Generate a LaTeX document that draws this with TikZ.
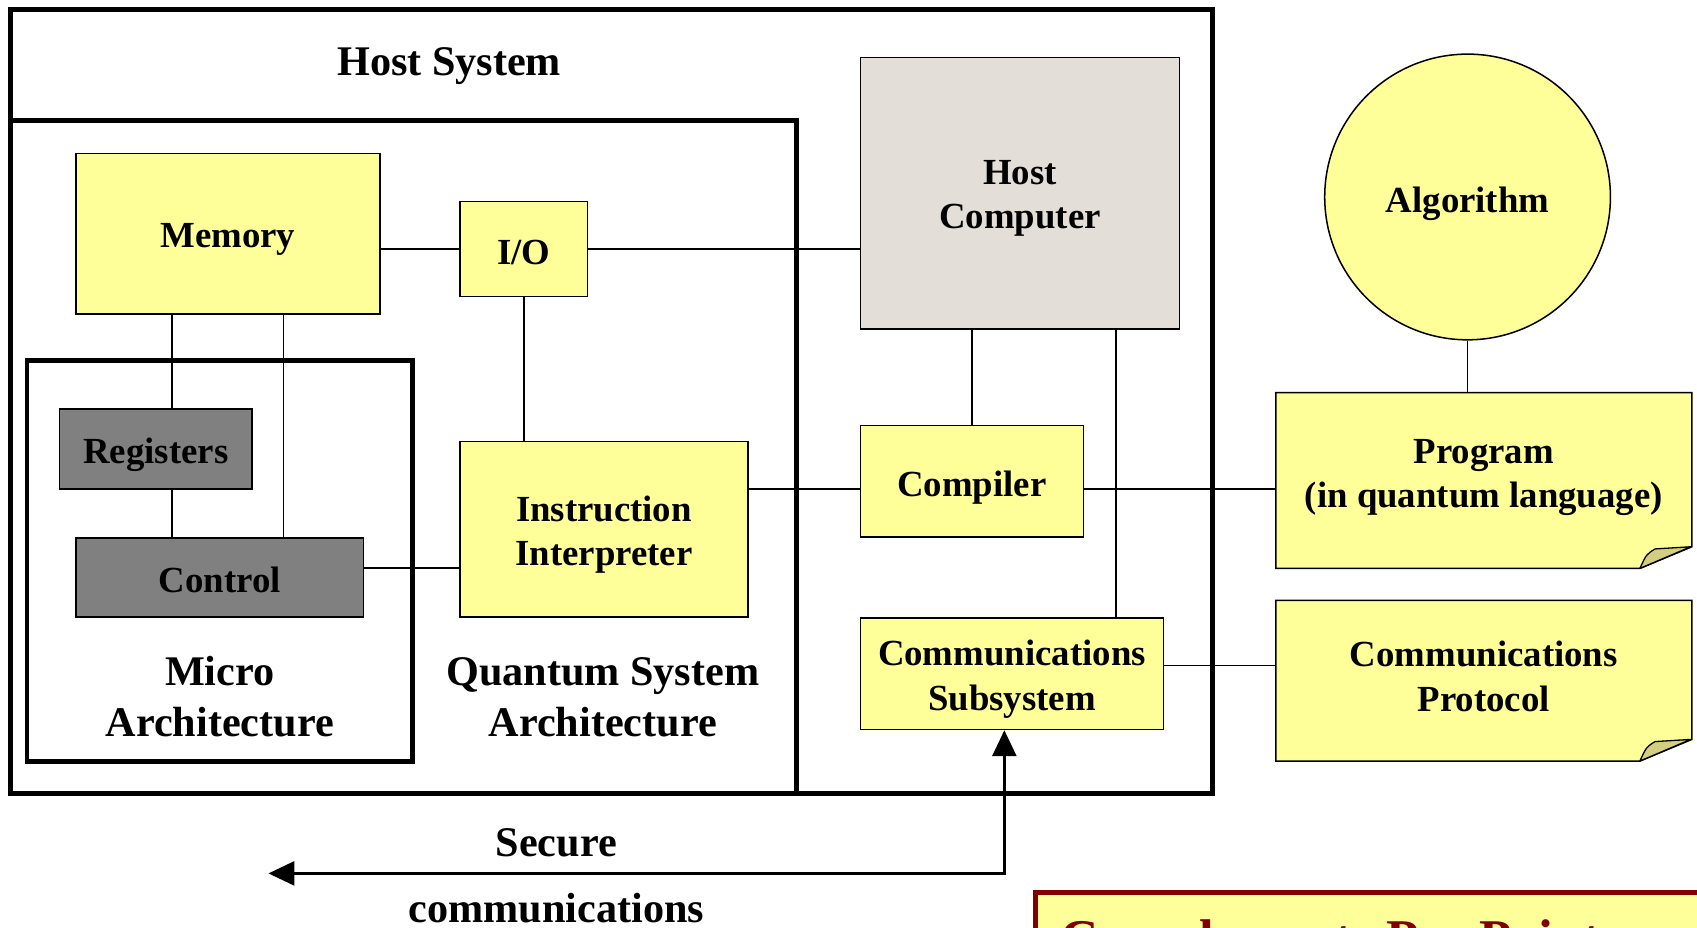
\documentclass[tikz,border=0pt]{standalone}
\usepackage{fontspec}
\setmainfont{Liberation Serif}
\usetikzlibrary{arrows.meta,calc}
\pgfdeclarelayer{bg}
\pgfsetlayers{bg,main}
\definecolor{ylw}{RGB}{255,255,153}
\definecolor{hcg}{RGB}{227,223,216}
\definecolor{dgray}{RGB}{128,128,128}
\definecolor{foldc}{RGB}{212,206,128}
\definecolor{dred}{RGB}{128,0,0}
\tikzset{
  lbl/.style={font=\bfseries\fontsize{34}{41}\selectfont, align=center, inner sep=0pt},
  biglbl/.style={font=\bfseries\fontsize{39}{47}\selectfont, align=center, inner sep=0pt},
  box/.style={draw=black, line width=1.4pt, inner sep=0pt, rectangle},
  ybox/.style={box, fill=ylw},
  gbox/.style={box, fill=dgray},
  hbox/.style={box, fill=hcg},
  notebox/.style={inner sep=0pt, rectangle},
  notebody/.style={draw=black, line width=1.4pt, fill=ylw},
  foldstyle/.style={draw=black, line width=1.2pt, fill=foldc, line join=round},
  frame/.style={draw=black, line width=4.5pt},
  link/.style={draw=black, line width=1.3pt},
  secure/.style={draw=black, line width=3pt, {Triangle[length=24pt,width=22pt]}-{Triangle[length=24pt,width=22pt]}},
}
\begin{document}
\begin{tikzpicture}[x=1pt,y=-1pt]
\useasboundingbox (0,0) rectangle (1568,857);
\clip (0,0) rectangle (1568,857);

% frames
\draw[frame] (10,9) rectangle (1120,733);
\draw[frame] (10,111) -- (736,111) -- (736,733);
\draw[frame] (25,333) rectangle (381,704);

% frame labels
\node[biglbl] (hs) at (415,61) {Host System};
\node[biglbl] (ma) at (203,644) {Micro\\Architecture};
\node[biglbl] (qsa) at (557,644) {Quantum System\\Architecture};

% boxes
\node[ybox, minimum width=281, minimum height=148] (mem) at (210.5,216) {};
\node[lbl] (memt) at ([yshift=-5]mem.center) {Memory};
\node[ybox, minimum width=118, minimum height=88] (io) at (484,230) {};
\node[lbl] (iot) at ([yshift=-3]io.center) {I/O};
\node[hbox, minimum width=295, minimum height=251] (hc) at (942.5,178.5) {};
\node[lbl] (hct) at ([yshift=-5]hc.center) {Host\\Computer};
\node[gbox, minimum width=178, minimum height=74] (reg) at (144,415) {};
\node[lbl] (regt) at ([yshift=-5]reg.center) {Registers};
\node[gbox, minimum width=266, minimum height=73] (ctl) at (203,533.5) {};
\node[lbl] (ctlt) at ([yshift=-2.5]ctl.center) {Control};
\node[ybox, minimum width=266, minimum height=162] (ii) at (558,489) {};
\node[lbl] (iit) at ([yshift=-5]ii.center) {Instruction\\Interpreter};
\node[ybox, minimum width=206, minimum height=103] (comp) at (898,444.5) {};
\node[lbl] (compt) at ([yshift=-6]comp.center) {Compiler};
\node[ybox, minimum width=280, minimum height=103] (cs) at (935,622.5) {};
\node[lbl] (cst) at ([yshift=-5]cs.center) {Communications\\Subsystem};
\node[circle, draw=black, line width=1.4pt, fill=ylw, minimum size=264, inner sep=0pt] (alg) at (1356,182) {};
\node[lbl] (algt) at ([yshift=-6]alg.center) {Algorithm};

% notes
\node[notebox, minimum width=384, minimum height=162] (prog) at (1371,444) {};
\node[lbl] (progt) at ([yshift=3]prog.center) {Program\\(in quantum language)};
\node[notebox, minimum width=384, minimum height=148] (prot) at (1371,629) {};
\node[lbl] (prott) at ([yshift=4]prot.center) {Communications\\Protocol};
\begin{pgfonlayer}{bg}
\fill[white] (0,0) rectangle (1568,857);
\foreach \n in {prog,prot} {
  \draw[notebody] (\n.north west) -- (\n.north east) -- ($(\n.south east)+(0,-20)$) -- ($(\n.south east)+(-48,0)$) -- (\n.south west) -- cycle;
  \draw[foldstyle] ($(\n.south east)+(-48,0)$) .. controls ($(\n.south east)+(-42,-13)$) .. ($(\n.south east)+(-34,-18)$) -- ($(\n.south east)+(-1,-20)$) -- cycle;
}
\end{pgfonlayer}

% connectors
\draw[link] (mem.east |- io.west) -- (io.west);
\draw[link] (io.east) -- (io.east -| hc.west);
\draw[link] ([xshift=15]reg.north) -- ([xshift=15]reg.north |- mem.south);
\draw[link] ([xshift=15]reg.south) -- ([xshift=15]reg.south |- ctl.north);
\draw[link] ([xshift=59]ctl.north) -- ([xshift=59]ctl.north |- mem.south);
\draw[link] (io.south) -- (io.south |- ii.north);
\draw[link] ([yshift=8.5]ctl.east) -- ([yshift=8.5]ctl.east -| ii.west);
\draw[link] ([yshift=-7.5]comp.west) -- ([yshift=-7.5]comp.west -| ii.east);
\draw[link] ([yshift=-7.5]comp.east) -- ([yshift=-7.5]comp.east -| prog.west);
\draw[link] (comp.north) -- (comp.north |- hc.south);
\draw[link] ([xshift=96]cs.north) -- ([xshift=96]cs.north |- hc.south);
\draw[link] ([yshift=7.5]cs.east) -- ([yshift=7.5]cs.east -| prot.west);
\draw[link] (alg.south) -- (alg.south |- prog.north);

% secure communications
\coordinate (sl) at (248,807);
\coordinate (sb) at (928,807);
\draw[secure] (sl) -- (sb) -- (sb |- cs.south);
\node[biglbl] (sec1) at (514,779) {Secure};
\node[biglbl] (sec2) at (514,839) {communications};

% cut-off red box
\draw[line width=4.5pt, draw=dred, fill=ylw] (957,825) rectangle (1650,960);
\node[anchor=base west, inner sep=0pt, text=dred, font=\bfseries\fontsize{49}{58}\selectfont] (cpp) at (980,884) {Complements Per Point};
\end{tikzpicture}
\end{document}
